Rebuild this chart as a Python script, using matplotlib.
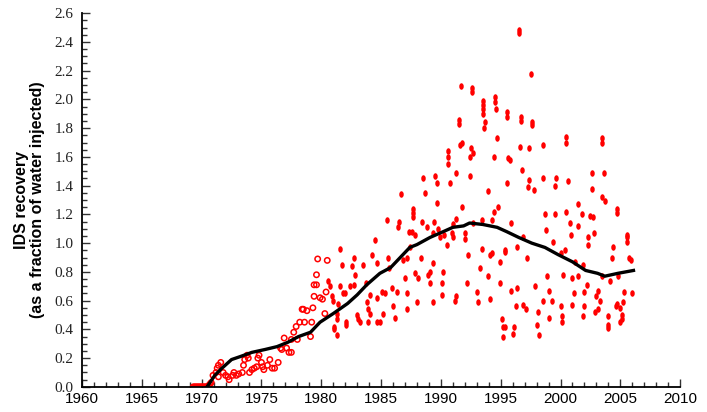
#!/usr/bin/env python3
"""IDS recovery as a fraction of water injected, 1960-2010."""
import matplotlib
matplotlib.use("Agg")
import matplotlib.pyplot as plt
from matplotlib.path import Path
from matplotlib.ticker import MultipleLocator

# early records, drawn as open circles
yr_open = [1969.3, 1969.4, 1969.5, 1969.6, 1969.7, 1969.8, 1969.9, 1970.0,
           1970.1, 1970.2, 1970.3, 1970.4, 1970.5, 1970.6, 1970.7, 1970.8,
           1970.95, 1971.2, 1971.3, 1971.4, 1971.6, 1971.4, 1971.8, 1972.0, 1972.2, 1972.3,
           1972.6, 1972.7, 1972.9, 1973.1, 1973.4, 1973.5, 1973.6, 1973.8, 1973.9, 1974.0,
           1974.2, 1974.4, 1974.6, 1974.7, 1974.8, 1975.0, 1975.1, 1975.2, 1975.5, 1975.7,
           1975.9, 1976.1, 1976.4, 1976.6, 1976.7, 1976.9, 1977.1, 1977.3, 1977.5, 1977.5,
           1977.7, 1977.9, 1978.0, 1978.2, 1978.4, 1978.5, 1978.6, 1978.8, 1979.1, 1979.2,
           1979.3, 1979.4, 1979.4, 1979.6, 1979.6, 1979.7, 1979.9, 1980.1, 1980.3, 1980.4,
           1980.5]
val_open = [0, 0, 0, 0, 0, 0, 0, 0,
            0, 0, 0, 0, 0, 0.01, 0.02, 0.03,
            0.08, 0.10, 0.13, 0.15, 0.17, 0.07, 0.10, 0.08, 0.07, 0.05,
            0.08, 0.10, 0.08, 0.09, 0.10, 0.15, 0.19, 0.22, 0.20, 0.10,
            0.12, 0.13, 0.14, 0.20, 0.22, 0.17, 0.14, 0.12, 0.15, 0.19,
            0.13, 0.13, 0.17, 0.27, 0.26, 0.34, 0.27, 0.24, 0.24, 0.33,
            0.38, 0.42, 0.33, 0.45, 0.54, 0.54, 0.45, 0.53, 0.35, 0.45,
            0.55, 0.63, 0.71, 0.78, 0.71, 0.89, 0.62, 0.61, 0.51, 0.66,
            0.88]

# 1980s
yr_80s = [1980.6, 1980.7, 1980.9, 1981.0, 1981.1, 1981.3, 1981.3, 1981.4, 1981.6, 1981.6,
          1981.7, 1981.8, 1982.1, 1982.4, 1982.6, 1982.7, 1982.8, 1983.0, 1983.1, 1983.2,
          1983.5, 1983.7, 1983.8, 1983.9, 1984.1, 1983.9, 1984.1, 1984.2, 1984.5, 1984.7,
          1984.7, 1984.9, 1985.1, 1985.2, 1985.3, 1985.5, 1985.6, 1985.7, 1985.9, 1986.0,
          1986.2, 1986.3, 1986.4, 1986.5, 1986.7, 1986.8, 1987.0, 1987.2, 1987.2, 1987.3,
          1987.4, 1981.1, 1981.3, 1982.0, 1982.1, 1982.7, 1984.7]
val_80s = [0.74, 0.70, 0.63, 0.60, 0.42, 0.36, 0.47, 0.58, 0.70, 0.96,
           0.85, 0.65, 0.45, 0.70, 0.84, 0.90, 0.78, 0.50, 0.47, 0.45,
           0.85, 0.72, 0.59, 0.54, 0.64, 0.45, 0.51, 0.92, 1.02, 0.86,
           0.62, 0.45, 0.66, 0.51, 0.65, 1.16, 0.90, 0.83, 0.69, 0.56,
           0.48, 0.66, 1.11, 1.15, 1.34, 0.88, 0.76, 0.65, 0.54, 1.08,
           0.97, 0.40, 0.51, 0.65, 0.43, 0.71, 0.45]

# late 1980s to mid 1990s
yr_90s = [1987.2, 1987.6, 1987.7, 1987.7, 1987.8, 1987.8, 1988.0, 1988.1, 1988.3, 1988.4,
          1988.5, 1988.7, 1988.8, 1988.9, 1989.1, 1989.1, 1989.3, 1989.3, 1989.3, 1989.4,
          1989.5, 1989.7, 1989.7, 1989.8, 1989.9, 1990.1, 1990.1, 1990.2, 1990.3, 1990.5,
          1990.6, 1990.6, 1990.8, 1990.9, 1991.0, 1991.0, 1991.2, 1991.3, 1991.3, 1991.3,
          1991.5, 1991.6, 1991.8, 1991.7, 1991.8, 1992.0, 1992.0, 1992.2, 1992.3, 1992.4,
          1992.5, 1992.4, 1992.6, 1992.7, 1992.7, 1993.0, 1993.1, 1993.3, 1993.4, 1993.4,
          1993.5, 1993.5, 1993.6, 1993.7, 1993.9, 1993.9, 1994.1, 1994.3, 1994.3, 1994.4,
          1994.4, 1994.5, 1994.6, 1994.7, 1994.8, 1994.9, 1994.9, 1995.1, 1995.2, 1995.2,
          1995.4, 1995.5, 1995.5, 1995.6]
val_90s = [0.90, 1.08, 1.18, 1.24, 1.06, 0.79, 0.59, 0.76, 0.90, 1.15,
           1.45, 1.35, 1.11, 0.78, 0.80, 0.72, 0.86, 0.59, 1.07, 1.15,
           1.47, 1.42, 1.28, 1.10, 1.04, 0.72, 0.64, 0.80, 1.06, 0.99,
           1.55, 1.64, 1.42, 1.07, 1.04, 1.13, 0.60, 0.63, 1.49, 1.17,
           1.86, 1.68, 1.70, 2.09, 1.25, 1.07, 1.03, 0.72, 0.92, 1.60,
           1.66, 1.47, 2.08, 1.63, 1.14, 0.66, 0.59, 0.83, 0.96, 1.16,
           1.96, 1.93, 1.80, 1.84, 1.36, 0.77, 0.92, 0.93, 1.16, 1.22,
           1.60, 2.02, 1.93, 1.73, 1.25, 0.87, 0.72, 0.47, 0.42, 0.35,
           0.95, 1.42, 1.91, 1.59]

# mid 1990s to 2006
yr_00s = [1997.5, 1996.5, 1996.7, 1997.6, 1996.6, 1997.4, 1998.5, 2000.5, 2003.5, 1995.8,
          1996.8, 1997.4, 1997.3, 1997.8, 1998.5, 1999.6, 1999.5, 2000.6, 2002.6, 2003.6,
          2002.6, 2003.5, 2003.7, 2004.7, 2001.5, 2000.5, 1998.7, 1999.5, 2001.8, 2002.5,
          2002.7, 2000.8, 2001.5, 1995.9, 1998.8, 2000.9, 2002.8, 2002.3, 2005.6, 2005.6,
          1996.9, 1999.4, 2002.3, 2004.4, 1995.4, 1996.4, 1997.2, 2000.4, 2000.0, 2004.3,
          2005.7, 2001.2, 2001.9, 2005.9, 2000.2, 1998.9, 2001.0, 2001.5, 2004.8, 2004.1,
          2003.5, 2002.2, 1997.9, 1996.4, 1995.9, 1999.0, 2001.1, 2002.0, 2003.1, 2005.3,
          2006.0, 1998.5, 1999.3, 2003.0, 2003.3, 2005.2, 1996.3, 1996.9, 1997.1, 2000.0,
          2001.0, 2002.0, 2004.6, 2005.0, 1998.1, 2003.1, 1999.0, 2000.1, 2001.9, 2004.0,
          2005.1, 1998.0, 2000.1, 2004.0, 2005.0, 1996.1, 1995.4, 1996.0, 1998.2]
val_00s = [2.18, 2.48, 1.85, 1.84, 1.67, 1.66, 1.68, 1.70, 1.70, 1.58,
           1.51, 1.44, 1.39, 1.37, 1.45, 1.45, 1.40, 1.43, 1.49, 1.49,
           1.38, 1.32, 1.29, 1.21, 1.27, 1.22, 1.20, 1.20, 1.20, 1.19,
           1.18, 1.14, 1.12, 1.14, 1.09, 1.06, 1.07, 1.04, 1.06, 1.01,
           1.04, 1.01, 0.99, 0.97, 0.94, 0.97, 0.90, 0.95, 0.93, 0.90,
           0.90, 0.87, 0.85, 0.88, 0.78, 0.77, 0.76, 0.77, 0.77, 0.74,
           0.77, 0.71, 0.70, 0.69, 0.67, 0.67, 0.65, 0.66, 0.67, 0.66,
           0.65, 0.60, 0.60, 0.63, 0.60, 0.59, 0.56, 0.57, 0.54, 0.56,
           0.57, 0.56, 0.56, 0.55, 0.52, 0.54, 0.48, 0.49, 0.49, 0.49,
           0.50, 0.43, 0.45, 0.43, 0.45, 0.42, 0.42, 0.37, 0.36]

# second readings inside the vertical streaks
yr_ext = [1991.5, 1992.6, 1993.5, 1994.5, 1996.5, 1990.6, 2003.5, 2000.5, 1997.6, 1996.7,
          2004.7, 2005.6, 2002.9, 2004.0, 2005.1, 2004.7, 1994.1, 1993.5, 1995.5, 1987.7]
val_ext = [1.83, 2.05, 1.99, 1.98, 2.46, 1.60, 1.73, 1.74, 1.82, 1.88,
           1.24, 1.04, 0.52, 0.41, 0.47, 0.58, 0.61, 1.90, 1.88, 1.21]

# smoothed trend
line_yr = [1970.45, 1971.1, 1971.7, 1972.5, 1973.2, 1974.2, 1975.3, 1976.3, 1977.2, 1978.1,
           1979.1, 1979.9, 1981.0, 1982.2, 1983.0, 1983.8, 1984.9, 1985.8, 1986.6, 1987.4,
           1988.0, 1989.1, 1990.2, 1991.0, 1991.9, 1992.4, 1993.5, 1994.7, 1995.5, 1996.5,
           1997.6, 1998.7, 1999.8, 2001.0, 2002.1, 2003.1, 2003.7, 2004.8, 2006.1]
line_val = [0.0, 0.08, 0.13, 0.19, 0.21, 0.24, 0.26, 0.28, 0.31, 0.35,
            0.38, 0.45, 0.51, 0.58, 0.64, 0.71, 0.79, 0.83, 0.90, 0.97,
            0.99, 1.04, 1.08, 1.11, 1.12, 1.14, 1.13, 1.11, 1.08, 1.04,
            1.00, 0.97, 0.92, 0.87, 0.81, 0.79, 0.77, 0.79, 0.81]

fig = plt.figure(figsize=(7.07, 4.12), dpi=100)
ax = fig.add_axes([0.116, 0.061, 0.846, 0.907])

# filled dots look slightly stretched upward (overlapping readings)
circ = Path.unit_circle()
tall_dot = Path(circ.vertices * [1.0, 1.45], circ.codes)

red = '#ff0000'
ax.scatter(yr_open, val_open, s=15, facecolors='none', edgecolors=red,
           linewidths=1.1, zorder=2)
for xs, ys in [(yr_80s, val_80s), (yr_90s, val_90s),
               (yr_00s, val_00s), (yr_ext, val_ext)]:
    ax.scatter(xs, ys, s=22, marker=tall_dot, color=red, linewidths=0,
               zorder=2)

ax.plot(line_yr, line_val, color='black', linewidth=2.4, zorder=3)

ax.set_xlim(1960, 2010)
ax.set_ylim(0, 2.6)
ax.xaxis.set_major_locator(MultipleLocator(5))
ax.xaxis.set_minor_locator(MultipleLocator(1))
ax.yaxis.set_major_locator(MultipleLocator(0.2))
ax.yaxis.set_minor_locator(MultipleLocator(0.05))
ax.yaxis.set_major_formatter(plt.FuncFormatter(lambda v, p: f"{v:.1f}"))

for side in ['top', 'right']:
    ax.spines[side].set_visible(False)
for side in ['left', 'bottom']:
    ax.spines[side].set_linewidth(1.3)

ax.tick_params(which='both', direction='in', width=1.0, color='#333333')
ax.tick_params(which='major', length=6)
ax.tick_params(which='minor', length=3.5)
ax.tick_params(axis='x', pad=4, labelsize=11, labelfontfamily='Liberation Sans')
ax.tick_params(axis='y', pad=6, labelsize=11, labelfontfamily='Liberation Serif',
               labelcolor='#222222')

ax.set_ylabel("IDS recovery\n(as a fraction of water injected)",
              fontfamily='Liberation Sans', fontweight='bold', fontsize=11.5,
              linespacing=1.1, labelpad=7)

plt.savefig("out.png", dpi=100)
